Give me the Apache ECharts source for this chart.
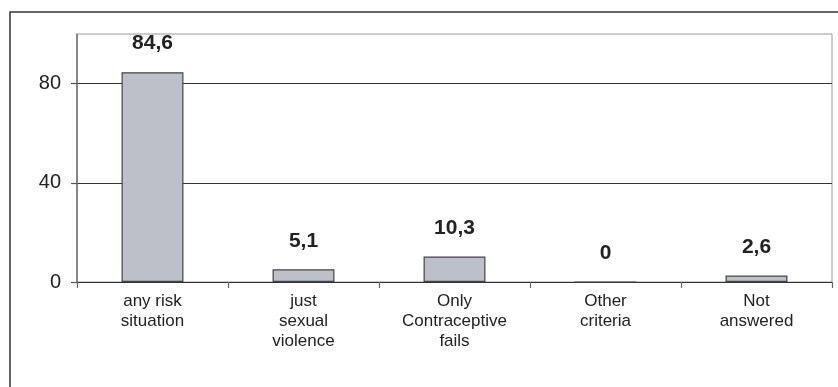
<!DOCTYPE html>
<html>
<head>
<meta charset="utf-8">
<script src="https://cdn.jsdelivr.net/npm/echarts@6/dist/echarts.min.js"></script>
<style>
  html, body { margin: 0; padding: 0; background: #fff; }
  #chart { width: 838px; height: 387px; }
</style>
</head>
<body>
<div id="chart"></div>
<script>
// Share of answers per criterion (%)
const categories = [
  'any risk\nsituation',
  'just\nsexual\nviolence',
  'Only\nContraceptive\nfails',
  'Other\ncriteria',
  'Not\nanswered'
];
const values = [84.6, 5.1, 10.3, 0, 2.6];
const yTicks = [0, 40, 80];

const FONT = '"Liberation Sans", Arial, sans-serif';

const chart = echarts.init(document.getElementById('chart'), null, { renderer: 'canvas' });

chart.setOption({
  animation: false,
  backgroundColor: '#ffffff',
  graphic: [{
    type: 'rect',
    shape: { x: 10, y: 12, width: 1000, height: 1000 },
    style: { fill: 'none', stroke: '#333333', lineWidth: 1.5 },
    silent: true,
    z: 0
  }],
  grid: {
    left: 77, right: 6, top: 34, bottom: 105,
    show: true,
    borderColor: '#9a9a9a',
    borderWidth: 1,
    backgroundColor: 'transparent'
  },
  xAxis: {
    type: 'category',
    data: categories,
    axisLine: { show: true, lineStyle: { color: '#333333', width: 1.2 } },
    axisTick: { show: true, length: 6, alignWithLabel: false, lineStyle: { color: '#666666', width: 1.2 } },
    axisLabel: {
      interval: 0,
      margin: 9,
      color: '#222222',
      fontFamily: FONT,
      fontSize: 17,
      lineHeight: 20
    },
    splitLine: { show: false }
  },
  yAxis: {
    type: 'value',
    min: 0,
    max: 100,
    interval: 40,
    axisLine: { show: true, lineStyle: { color: '#707070', width: 1.5 } },
    axisTick: { show: true, length: 6, customValues: yTicks, lineStyle: { color: '#555555', width: 1.2 } },
    axisLabel: {
      customValues: yTicks,
      margin: 16,
      color: '#222222',
      fontFamily: FONT,
      fontSize: 20,
      formatter: v => (yTicks.indexOf(v) >= 0 ? String(v) : '')
    },
    splitLine: {
      show: true,
      lineStyle: { color: ['#333333', '#333333', '#333333', '#9a9a9a'], width: 1.2 }
    }
  },
  series: [{
    type: 'bar',
    data: values,
    barWidth: '41%',
    itemStyle: { color: '#bdc0c8', borderColor: '#444444', borderWidth: 1.2 },
    label: {
      show: true,
      position: 'top',
      distance: 18,
      color: '#222222',
      fontFamily: FONT,
      fontWeight: 'bold',
      fontSize: 21,
      formatter: p => String(p.value).replace('.', ',')
    }
  }]
});
</script>
</body>
</html>
